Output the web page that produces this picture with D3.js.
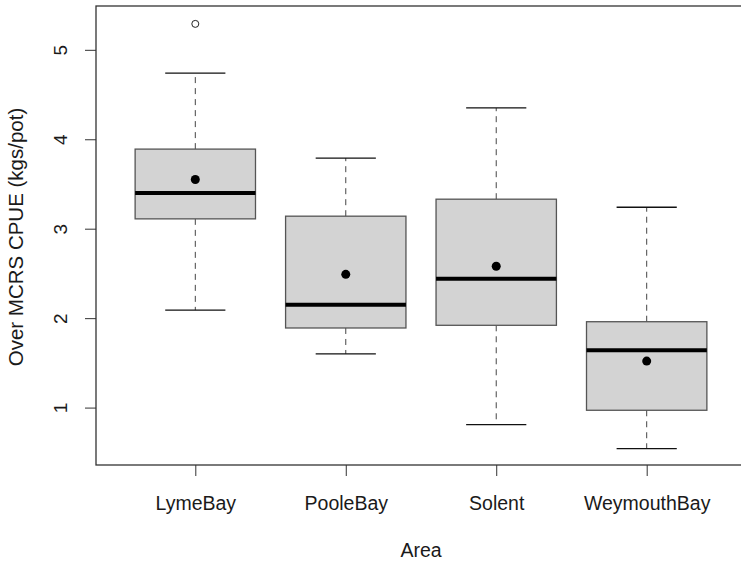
<!DOCTYPE html>
<html>
<head>
<meta charset="utf-8">
<script src="https://cdn.jsdelivr.net/npm/d3@7"></script>
<style>
body { margin:0; background:#fff; }
svg text { font-family: "Liberation Sans", Arial, sans-serif; fill:#1a1a1a; }
</style>
</head>
<body>
<div id="chart"></div>
<script>
// values
var areas=["LymeBay","PooleBay","Solent","WeymouthBay"];
var lowerWhisker=[2.09,1.60,0.81,0.54];
var q1=[3.11,1.89,1.92,0.97];
var medians=[3.40,2.15,2.44,1.64];
var q3=[3.89,3.14,3.33,1.96];
var upperWhisker=[4.74,3.79,4.35,3.24];
var means=[3.55,2.49,2.58,1.52];
var outliers=[[5.29],[],[],[]];
var yTicks=[1,2,3,4,5];

function draw() {
    var W=741, H=562;
    var left=96, right=746, top=6, bottom=465;
    var svg=d3.select("#chart").append("svg")
        .attr("width",W)
        .attr("height",H);

    var x=d3.scaleLinear().domain([0.34,4.66]).range([left,right]);
    var y=d3.scaleLinear().domain([0.358,5.49]).range([bottom,top]);

    var boxes=d3.range(areas.length).map(function(i) {
        return {i:i, name:areas[i], lo:lowerWhisker[i], q1:q1[i], med:medians[i],
            q3:q3[i], hi:upperWhisker[i], mean:means[i], out:outliers[i]};
        });

    var g=svg.selectAll("g.box")
        .data(boxes)
        .enter()
        .append("g")
        .attr("class","box");

    // whiskers (dashed)
    [["q3","hi"],["q1","lo"]].forEach(function(p) {
        g.append("line")
            .attr("x1",function(d) { return x(d.i+1); })
            .attr("x2",function(d) { return x(d.i+1); })
            .attr("y1",function(d) { return y(d[p[0]]); })
            .attr("y2",function(d) { return y(d[p[1]]); })
            .attr("stroke","#444").attr("stroke-dasharray","6,5");
        });
    // staples
    ["hi","lo"].forEach(function(k) {
        g.append("line")
            .attr("x1",function(d) { return x(d.i+0.8); })
            .attr("x2",function(d) { return x(d.i+1.2); })
            .attr("y1",function(d) { return y(d[k]); })
            .attr("y2",function(d) { return y(d[k]); })
            .attr("stroke","#111").attr("stroke-width",1.3);
        });

    // box
    g.append("rect")
        .attr("x",function(d) { return x(d.i+0.6); })
        .attr("width",x(1.4)-x(0.6))
        .attr("y",function(d) { return y(d.q3); })
        .attr("height",function(d) { return y(d.q1)-y(d.q3); })
        .attr("fill","#d3d3d3")
        .attr("stroke","#555")
        .attr("stroke-width",1.3);

    // median
    g.append("line")
        .attr("x1",function(d) { return x(d.i+0.6); })
        .attr("x2",function(d) { return x(d.i+1.4); })
        .attr("y1",function(d) { return y(d.med); })
        .attr("y2",function(d) { return y(d.med); })
        .attr("stroke","#000").attr("stroke-width",4);

    // mean
    g.append("circle")
        .attr("cx",function(d) { return x(d.i+1); })
        .attr("cy",function(d) { return y(d.mean); })
        .attr("r",4.5)
        .attr("fill","#000");

    // outliers
    g.selectAll("circle.out")
        .data(function(d) { return d.out.map(function(v) { return {i:d.i, v:v}; }); })
        .enter()
        .append("circle")
        .attr("class","out")
        .attr("cx",function(d) { return x(d.i+1); })
        .attr("cy",function(d) { return y(d.v); })
        .attr("r",3.5)
        .attr("fill","none")
        .attr("stroke","#222");

    // frame
    svg.append("rect")
        .attr("x",left).attr("y",top)
        .attr("width",right-left).attr("height",bottom-top)
        .attr("fill","none").attr("stroke","#333").attr("stroke-width",1.3);

    // y axis
    var ya=svg.append("g")
        .attr("transform","translate("+left+",0)")
        .call(d3.axisLeft(y).tickValues(yTicks).tickSize(11).tickFormat(d3.format("d")));
    ya.select(".domain").remove();
    ya.selectAll(".tick line").attr("stroke","#333");
    ya.selectAll(".tick text")
        .attr("transform","rotate(-90)")
        .attr("x",0).attr("y",-36).attr("dy","0.35em")
        .attr("text-anchor","middle")
        .style("font-size","19px");

    // x axis
    var xa=svg.append("g")
        .attr("transform","translate(0,"+bottom+")")
        .call(d3.axisBottom(x).tickValues([1,2,3,4]).tickSize(11)
            .tickFormat(function(d) { return areas[d-1]; }));
    xa.select(".domain").remove();
    xa.selectAll(".tick line").attr("stroke","#333");
    xa.selectAll(".tick text")
        .attr("y",38).attr("dy","0.35em")
        .style("font-size","19.5px");

    svg.append("text")
        .attr("x",(left+right)/2).attr("y",550).attr("dy","0.35em")
        .attr("text-anchor","middle")
        .style("font-size","19.5px")
        .text("Area");

    svg.append("text")
        .attr("transform","translate(16,237) rotate(-90)")
        .attr("dy","0.35em")
        .attr("text-anchor","middle")
        .style("font-size","20.5px")
        .text("Over MCRS CPUE (kgs/pot)");
    }

document.body.onload=function() {
    draw();
    }
</script>
</body>
</html>
